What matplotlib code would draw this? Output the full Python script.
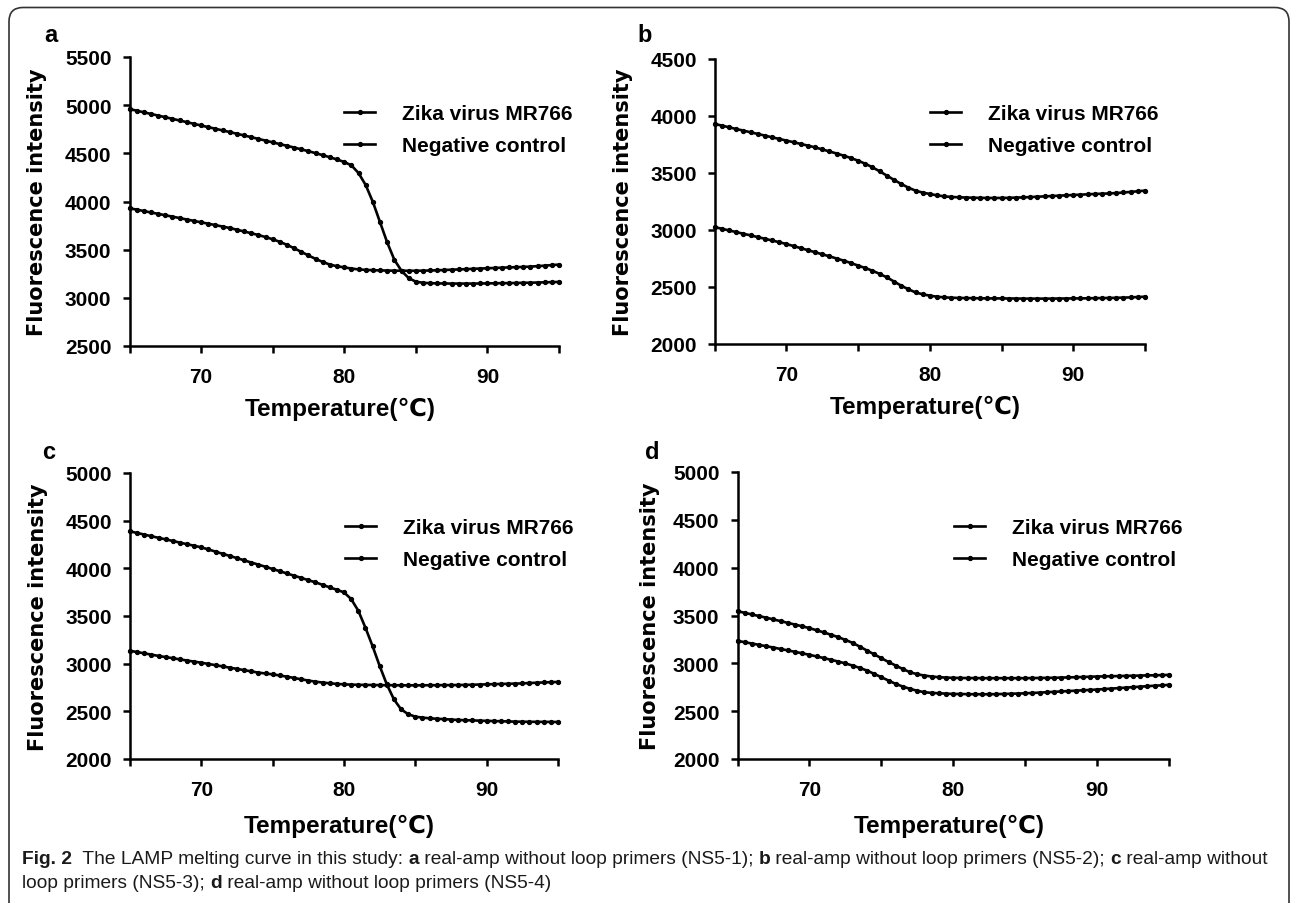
import numpy as np
import matplotlib
matplotlib.use("Agg")
import matplotlib.pyplot as plt
from matplotlib import font_manager
from matplotlib.patches import FancyBboxPatch
from matplotlib.transforms import IdentityTransform

W, H = 1290, 904

# melting temperatures, 0.5 C steps
temps = np.arange(65, 95.5, 0.5)

# panel a (NS5-1)
zika_a = [4960, 4943, 4926, 4909, 4892, 4875, 4858, 4841, 4824, 4806,
          4789, 4772, 4755, 4738, 4721, 4703, 4686, 4668, 4650, 4632,
          4614, 4596, 4578, 4560, 4541, 4522, 4502, 4481, 4459, 4436,
          4410, 4375, 4295, 4170, 3995, 3785, 3575, 3395, 3280, 3205,
          3168, 3156, 3152, 3150, 3149, 3148, 3148, 3148, 3148, 3149,
          3150, 3151, 3152, 3153, 3154, 3156, 3157, 3159, 3161, 3163, 3165]
neg_a = [3930, 3916, 3901, 3886, 3872, 3857, 3843, 3828, 3813, 3799,
         3784, 3770, 3755, 3740, 3725, 3707, 3689, 3671, 3652, 3631,
         3608, 3581, 3550, 3515, 3477, 3440, 3404, 3372, 3345, 3328,
         3316, 3304, 3295, 3290, 3287, 3285, 3283, 3282, 3281, 3281,
         3281, 3282, 3284, 3286, 3289, 3292, 3295, 3298, 3301, 3304,
         3307, 3310, 3313, 3316, 3318, 3321, 3324, 3329, 3334, 3340, 3345]

# panel b (NS5-2)
zika_b = [3025, 3011, 2996, 2982, 2967, 2953, 2938, 2923, 2908, 2893,
          2877, 2859, 2841, 2823, 2805, 2787, 2769, 2750, 2731, 2710,
          2688, 2666, 2643, 2615, 2585, 2548, 2512, 2480, 2453, 2436,
          2424, 2415, 2409, 2406, 2404, 2403, 2402, 2401, 2400, 2400,
          2400, 2399, 2399, 2398, 2398, 2398, 2398, 2398, 2399, 2399,
          2400, 2400, 2401, 2402, 2403, 2404, 2405, 2407, 2409, 2412, 2415]
neg_b = [3930, 3916, 3901, 3886, 3872, 3857, 3843, 3828, 3813, 3799,
         3784, 3770, 3755, 3740, 3725, 3707, 3689, 3671, 3652, 3631,
         3608, 3581, 3550, 3515, 3477, 3440, 3404, 3372, 3345, 3328,
         3316, 3304, 3295, 3290, 3287, 3285, 3283, 3282, 3281, 3281,
         3281, 3282, 3284, 3286, 3289, 3292, 3295, 3298, 3301, 3304,
         3307, 3310, 3313, 3316, 3318, 3321, 3324, 3329, 3334, 3340, 3345]

# panel c (NS5-3)
zika_c = [4388, 4371, 4354, 4337, 4320, 4304, 4287, 4270, 4253, 4237,
          4220, 4198, 4175, 4152, 4130, 4107, 4084, 4061, 4039, 4016,
          3993, 3970, 3946, 3923, 3900, 3876, 3853, 3827, 3800, 3775,
          3748, 3678, 3556, 3378, 3185, 2976, 2783, 2626, 2521, 2470,
          2444, 2434, 2427, 2422, 2418, 2414, 2409, 2407, 2405, 2402,
          2400, 2398, 2396, 2394, 2392, 2391, 2390, 2390, 2389, 2389, 2388]
neg_c = [3135, 3122, 3108, 3095, 3081, 3069, 3057, 3045, 3033, 3021,
         3010, 2997, 2984, 2971, 2958, 2945, 2932, 2919, 2906, 2897,
         2888, 2876, 2864, 2850, 2836, 2823, 2811, 2802, 2794, 2788,
         2783, 2780, 2778, 2777, 2776, 2775, 2774, 2774, 2773, 2773,
         2773, 2773, 2774, 2774, 2775, 2775, 2776, 2777, 2779, 2781,
         2783, 2785, 2787, 2789, 2791, 2793, 2797, 2800, 2803, 2806, 2808]

# panel d (NS5-4)
zika_d = [3545, 3528, 3511, 3494, 3477, 3459, 3441, 3423, 3405, 3387,
          3368, 3346, 3323, 3299, 3274, 3245, 3214, 3175, 3134, 3094,
          3054, 3014, 2977, 2940, 2907, 2886, 2872, 2862, 2855, 2851,
          2848, 2847, 2846, 2846, 2845, 2845, 2845, 2845, 2845, 2845,
          2845, 2846, 2847, 2848, 2849, 2851, 2853, 2855, 2857, 2860,
          2862, 2864, 2865, 2867, 2869, 2870, 2872, 2874, 2875, 2877, 2879]
neg_d = [3235, 3221, 3207, 3193, 3179, 3165, 3150, 3135, 3120, 3105,
         3089, 3072, 3055, 3037, 3019, 2999, 2977, 2952, 2925, 2890,
         2855, 2820, 2785, 2757, 2733, 2713, 2698, 2691, 2687, 2683,
         2680, 2679, 2678, 2677, 2677, 2677, 2678, 2680, 2682, 2684,
         2687, 2690, 2694, 2698, 2702, 2706, 2710, 2714, 2718, 2722,
         2726, 2731, 2736, 2741, 2746, 2751, 2756, 2761, 2766, 2770, 2775]

series_labels = ["Zika virus MR766", "Negative control"]
panel_letters = ["a", "b", "c", "d"]
y_ranges = [(2500, 5500), (2000, 4500), (2000, 5000), (2000, 5000)]
x_ticks = [65, 70, 75, 80, 85, 90, 95]
x_ticklabels = ["", "70", "", "80", "", "90", ""]
xlabel = "Temperature(\u2103)"
ylabel = "Fluorescence intensity"

caption1 = [("Fig. 2", "bold"), ("  The LAMP melting curve in this study: ", "normal"),
            ("a", "bold"), (" real-amp without loop primers (NS5-1); ", "normal"),
            ("b", "bold"), (" real-amp without loop primers (NS5-2); ", "normal"),
            ("c", "bold"), (" real-amp without", "normal")]
caption2 = [("loop primers (NS5-3); ", "normal"), ("d", "bold"),
            (" real-amp without loop primers (NS5-4)", "normal")]

# layout in pixels: x_left, x_right, y_top, y_bottom (from top of image)
boxes = [(129.5, 559, 58, 347), (714.7, 1145, 60, 345),
         (130, 558, 474, 760), (737.5, 1169, 473, 760)]
legend_pos = [(344, 105), (930, 105), (345, 519), (954, 519)]
letter_pos = [(51, 36), (645, 36), (49, 453), (652, 453)]
ylab_off = [-0.192, -0.19, -0.192, -0.18]
xlab_off = [-0.175, -0.18, -0.19, -0.19]

FONT = ["Liberation Sans", "DejaVu Sans"]
plt.rcParams["font.family"] = FONT

fig = plt.figure(figsize=(W / 100, H / 100), dpi=100)

data = [(zika_a, neg_a), (neg_b, zika_b), (zika_c, neg_c), (zika_d, neg_d)]

for i in range(4):
    x0, x1, yt, yb = boxes[i]
    ax = fig.add_axes([x0 / W, 1 - yb / H, (x1 - x0) / W, (yb - yt) / H])
    z, n = data[i]
    style = dict(color="black", lw=1.9, marker="o", ms=2.8, clip_on=False)
    if i == 1:
        # in b the upper trace is the control
        l2, = ax.plot(temps, z, **style)
        l1, = ax.plot(temps, n, **style)
    else:
        l1, = ax.plot(temps, z, **style)
        l2, = ax.plot(temps, n, **style)
    ax.set_xlim(65, 95)
    ax.set_ylim(*y_ranges[i])
    ax.set_yticks(np.arange(y_ranges[i][0], y_ranges[i][1] + 1, 500))
    ax.set_xticks(x_ticks)
    ax.set_xticklabels(x_ticklabels)
    for s in ["top", "right"]:
        ax.spines[s].set_visible(False)
    for s in ["left", "bottom"]:
        ax.spines[s].set_linewidth(1.8)
    ax.tick_params(axis="y", direction="out", length=5, width=1.8, pad=8,
                   labelsize=15)
    ax.tick_params(axis="x", direction="out", length=5, width=1.8, pad=10,
                   labelsize=15)
    for lab in ax.get_xticklabels() + ax.get_yticklabels():
        lab.set_fontweight("bold")
    ax.set_xlabel(xlabel, fontsize=17.5, fontweight="bold", va="top")
    ax.xaxis.set_label_coords(0.49, xlab_off[i])
    ax.set_ylabel(ylabel, fontsize=15, fontweight="bold", family="DejaVu Sans")
    ax.yaxis.set_label_coords(ylab_off[i], 0.5)

    lx, ly = legend_pos[i]
    ax.legend([l1, l2], series_labels, loc="upper left",
              bbox_to_anchor=(lx / W, 1 - ly / H), bbox_transform=fig.transFigure,
              frameon=False, borderpad=0, borderaxespad=0, handlelength=1.5,
              handletextpad=1.3, labelspacing=0.62,
              prop={"weight": "bold", "size": 15, "family": FONT})

    px, py = letter_pos[i]
    fig.text(px / W, 1 - py / H, panel_letters[i], fontsize=17, fontweight="bold",
             ha="center", va="center")

# caption with mixed bold runs
names = {f.name for f in font_manager.fontManager.ttflist}
cap_font = "Liberation Sans Narrow" if "Liberation Sans Narrow" in names else "Liberation Sans"
renderer = fig.canvas.get_renderer()


def run_width(runs, size):
    total = 0
    for s, w in runs:
        t = fig.text(0, 0, s, fontsize=size, fontweight=w, family=cap_font)
        total += t.get_window_extent(renderer).width
        t.remove()
    return total


cap_size = 13 * (1268 - 22) / run_width(caption1, 13)


def draw_runs(runs, x, y):
    for s, w in runs:
        t = fig.text(x / W, 1 - y / H, s, fontsize=cap_size, fontweight=w,
                     family=cap_font, va="center", ha="left", color="#1a1a1a")
        x += t.get_window_extent(renderer).width


draw_runs(caption1, 22, 860)
draw_runs(caption2, 22, 884)

# rounded frame around the figure
frame = FancyBboxPatch((9, -40), 1280, 895.5 + 40,
                       boxstyle="round,pad=0,rounding_size=14",
                       transform=IdentityTransform(), fill=False,
                       edgecolor="#333333", lw=1.2)
fig.patches.append(frame)

fig.savefig("out.png", dpi=100)
